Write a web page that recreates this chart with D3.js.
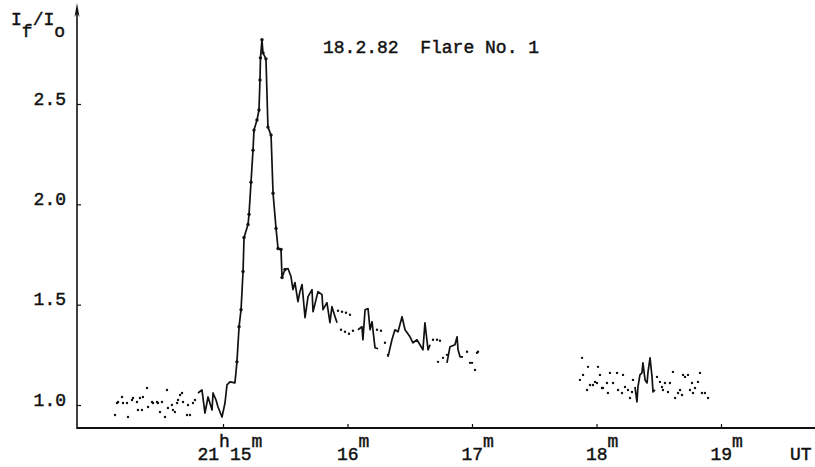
<!DOCTYPE html>
<html>
<head>
<meta charset="utf-8">
<script src="https://cdnjs.cloudflare.com/ajax/libs/d3/7.8.5/d3.min.js"></script>
<style>
  body { margin: 0; background: #fff; }
  text { font-family: "Liberation Mono", "Courier New", monospace; fill: #111; stroke: #111; stroke-width: 0.45px; }
</style>
</head>
<body>
<script>
// time in minutes after 21h UT, value = If/Io

// solid curve: pre-flare, flare and decay
const flareT = [14.799, 14.831, 14.855, 14.880, 14.912, 14.920, 14.944, 14.960, 14.992, 15.016,
  15.032, 15.056, 15.096, 15.112, 15.129, 15.145, 15.161, 15.169, 15.201, 15.209,
  15.225, 15.241, 15.249, 15.273, 15.289, 15.297, 15.301, 15.313, 15.321, 15.345,
  15.361, 15.386, 15.402, 15.426, 15.442, 15.466, 15.474, 15.498, 15.522, 15.546,
  15.562, 15.578, 15.602, 15.618, 15.635, 15.659, 15.683, 15.715, 15.723, 15.763,
  15.795, 15.803, 15.835, 15.859, 15.875, 15.900, 15.916]
const flareV = [1.060, 1.075, 0.960, 1.040, 0.975, 1.060, 1.025, 0.990, 0.940, 1.010,
  1.100, 1.115, 1.110, 1.215, 1.390, 1.475, 1.665, 1.835, 1.900, 1.950,
  2.110, 2.270, 2.370, 2.420, 2.470, 2.620, 2.730, 2.820, 2.755, 2.725,
  2.385, 2.345, 2.055, 1.880, 1.780, 1.775, 1.635, 1.675, 1.680, 1.640,
  1.575, 1.610, 1.515, 1.565, 1.600, 1.435, 1.540, 1.575, 1.465, 1.565,
  1.550, 1.475, 1.510, 1.410, 1.490, 1.440, 1.410]

const seg2T = [16.084, 16.116, 16.124, 16.141, 16.165, 16.181, 16.197, 16.221, 16.245]
const seg2V = [1.375, 1.390, 1.325, 1.475, 1.480, 1.375, 1.415, 1.285, 1.280]

const seg3T = [16.325, 16.357, 16.381, 16.406, 16.438, 16.462, 16.502, 16.526, 16.558, 16.582,
  16.606, 16.622, 16.647, 16.663]
const seg3V = [1.240, 1.325, 1.375, 1.365, 1.440, 1.375, 1.340, 1.310, 1.325, 1.300,
  1.275, 1.410, 1.275, 1.300]

const seg4T = [16.799, 16.823, 16.863, 16.880, 16.888, 16.904, 16.928]
const seg4V = [1.210, 1.290, 1.300, 1.340, 1.275, 1.240, 1.240]

const lateSpikeT = [18.309, 18.325, 18.333, 18.349, 18.365, 18.373, 18.390, 18.406, 18.414, 18.430,
  18.446, 18.454, 18.470]
const lateSpikeV = [1.090, 1.015, 1.090, 1.150, 1.160, 1.210, 1.125, 1.110, 1.165, 1.235,
  1.140, 1.065, 1.075]

// dotted points
const preDotsT = [14.133, 14.149, 14.157, 14.189, 14.197, 14.229, 14.237, 14.269, 14.277, 14.309,
  14.317, 14.333, 14.349, 14.357, 14.390, 14.398, 14.430, 14.438, 14.470, 14.478,
  14.494, 14.510, 14.534, 14.550, 14.558, 14.590, 14.598, 14.614, 14.631, 14.639,
  14.655, 14.671, 14.679, 14.711, 14.719, 14.735, 14.759, 14.775]
const preDotsV = [0.950, 1.010, 1.015, 1.040, 1.010, 1.010, 0.940, 1.025, 1.035, 1.015,
  0.975, 1.035, 0.975, 1.040, 1.085, 0.990, 1.015, 1.010, 1.015, 1.010,
  0.965, 1.015, 0.940, 1.075, 0.985, 1.000, 0.975, 0.965, 1.010, 1.025,
  1.050, 1.060, 1.015, 0.950, 1.000, 0.950, 1.010, 1.025]

const decayDotsT = [15.924, 15.956, 15.988, 16.020, 15.948, 15.980, 16.012, 16.044,
  16.237, 16.269, 16.301, 16.325,
  16.687, 16.719, 16.743, 16.727, 16.767, 16.799,
  16.960, 16.984, 17.000, 17.024, 17.040, 17.048]
const decayDotsV = [1.470, 1.465, 1.460, 1.450, 1.375, 1.365, 1.355, 1.370,
  1.375, 1.370, 1.310, 1.250,
  1.325, 1.325, 1.320, 1.215, 1.235, 1.250,
  1.265, 1.210, 1.210, 1.175, 1.260, 1.265]

const lateDotsT = [17.867, 17.884, 17.892, 17.924, 17.932, 17.948, 17.972, 17.988, 18.004, 18.012,
  18.028, 18.044, 18.052, 18.084, 18.092, 18.108, 18.133, 18.165, 18.173, 18.205,
  18.213, 18.229, 18.253, 18.269, 18.285, 18.293,
  18.486, 18.510, 18.526, 18.534, 18.550, 18.574, 18.590, 18.614, 18.631, 18.655,
  18.671, 18.687, 18.695, 18.711, 18.735, 18.751, 18.767, 18.775, 18.791, 18.815,
  18.831, 18.847, 18.871, 18.896]
const lateDotsV = [1.125, 1.235, 1.150, 1.075, 1.190, 1.100, 1.100, 1.115, 1.110, 1.190,
  1.150, 1.085, 1.085, 1.110, 1.060, 1.160, 1.110, 1.160, 1.075, 1.060,
  1.150, 1.090, 1.075, 1.035, 1.065, 1.125,
  1.140, 1.115, 1.090, 1.075, 1.110, 1.065, 1.110, 1.165, 1.035, 1.060,
  1.075, 1.050, 1.150, 1.140, 1.150, 1.075, 1.110, 1.060, 1.085, 1.115,
  1.160, 1.060, 1.060, 1.035]

const yTicks = [1.0, 1.5, 2.0, 2.5]
const xTicks = [15, 16, 17, 18, 19]

const width = 815
const height = 467

const svg = d3.select("body").append("svg")
  .attr("width", width)
  .attr("height", height)

const x = d3.scaleLinear().domain([15, 19]).range([223, 721])
const y = d3.scaleLinear().domain([1, 2.5]).range([405, 104])

const axisX = 77
const axisY = 428

// y axis
const yAxis = d3.axisLeft(y)
  .tickValues(yTicks)
  .tickFormat(d3.format(".1f"))
  .tickSize(-4)
  .tickPadding(11)

const yG = svg.append("g")
  .attr("transform", `translate(${axisX},0)`)
  .call(yAxis)
yG.select(".domain").remove()
yG.selectAll("line").attr("stroke", "#111").attr("stroke-width", 1.2)
yG.selectAll("text")
  .attr("dy", "0")
  .style("font-size", "18px")
  .style("font-family", null)

svg.append("line")
  .attr("x1", axisX).attr("x2", axisX)
  .attr("y1", 8).attr("y2", axisY + 1)
  .attr("stroke", "#111").attr("stroke-width", 1.6)

svg.append("path")
  .attr("d", `M${axisX},3 L${axisX - 2.5},17 L${axisX},13 L${axisX + 2.5},17 Z`)
  .attr("fill", "#111")

// x axis
const xAxis = d3.axisBottom(x)
  .tickValues(xTicks)
  .tickSize(-4)
  .tickFormat("")

const xG = svg.append("g")
  .attr("transform", `translate(0,${axisY})`)
  .call(xAxis)
xG.select(".domain").remove()
xG.selectAll("line").attr("stroke", "#111").attr("stroke-width", 1.2)

svg.append("line")
  .attr("x1", axisX).attr("x2", width)
  .attr("y1", axisY).attr("y2", axisY)
  .attr("stroke", "#111").attr("stroke-width", 2)

xG.selectAll(".tick").each(function (d) {
  const t = d3.select(this).append("text")
    .attr("y", 32)
    .attr("text-anchor", "start")
    .style("font-size", "18px")
  if (d === 15) {
    t.attr("x", -26)
    t.append("tspan").text("21")
    t.append("tspan").attr("dy", -13).text("h")
    t.append("tspan").attr("dy", 13).text("15")
    t.append("tspan").attr("dy", -13).text("m")
  } else {
    t.attr("x", -11)
    t.append("tspan").text(String(d))
    t.append("tspan").attr("dy", -13).text("m")
  }
})

svg.append("text")
  .attr("x", 790).attr("y", axisY + 32)
  .style("font-size", "18px")
  .text("UT")

// y label  If/Io
const yl = svg.append("text")
  .attr("x", 11).attr("y", 25)
  .style("font-size", "18px")
yl.append("tspan").text("I")
yl.append("tspan").attr("dy", 12).text("f")
yl.append("tspan").attr("dy", -12).text("/I")
yl.append("tspan").attr("dy", 12).text("o")

// title
svg.append("text")
  .attr("x", 323).attr("y", 53)
  .style("font-size", "18px")
  .attr("xml:space", "preserve")
  .style("white-space", "pre")
  .text("18.2.82  Flare No. 1")

// data
const line = d3.line().x(d => x(d[0])).y(d => y(d[1]))

const solids = [
  d3.zip(flareT, flareV),
  d3.zip(seg2T, seg2V),
  d3.zip(seg3T, seg3V),
  d3.zip(seg4T, seg4V),
  d3.zip(lateSpikeT, lateSpikeV)
]

svg.append("g").selectAll("path")
  .data(solids)
  .enter()
  .append("path")
  .attr("d", line)
  .attr("fill", "none")
  .attr("stroke", "#111")
  .attr("stroke-width", 1.7)
  .attr("stroke-linejoin", "round")

svg.append("g").selectAll("circle")
  .data(d3.zip(flareT, flareV).filter(d => d[0] > 15.1 && d[0] < 15.5))
  .enter()
  .append("circle")
  .attr("cx", d => x(d[0]))
  .attr("cy", d => y(d[1]))
  .attr("r", 1.7)
  .attr("fill", "#111")

const dots = d3.zip(preDotsT, preDotsV)
  .concat(d3.zip(decayDotsT, decayDotsV))
  .concat(d3.zip(lateDotsT, lateDotsV))

svg.append("g").selectAll("circle")
  .data(dots)
  .enter()
  .append("circle")
  .attr("cx", d => x(d[0]))
  .attr("cy", d => y(d[1]))
  .attr("r", 1.2)
  .attr("fill", "#111")
</script>
</body>
</html>
